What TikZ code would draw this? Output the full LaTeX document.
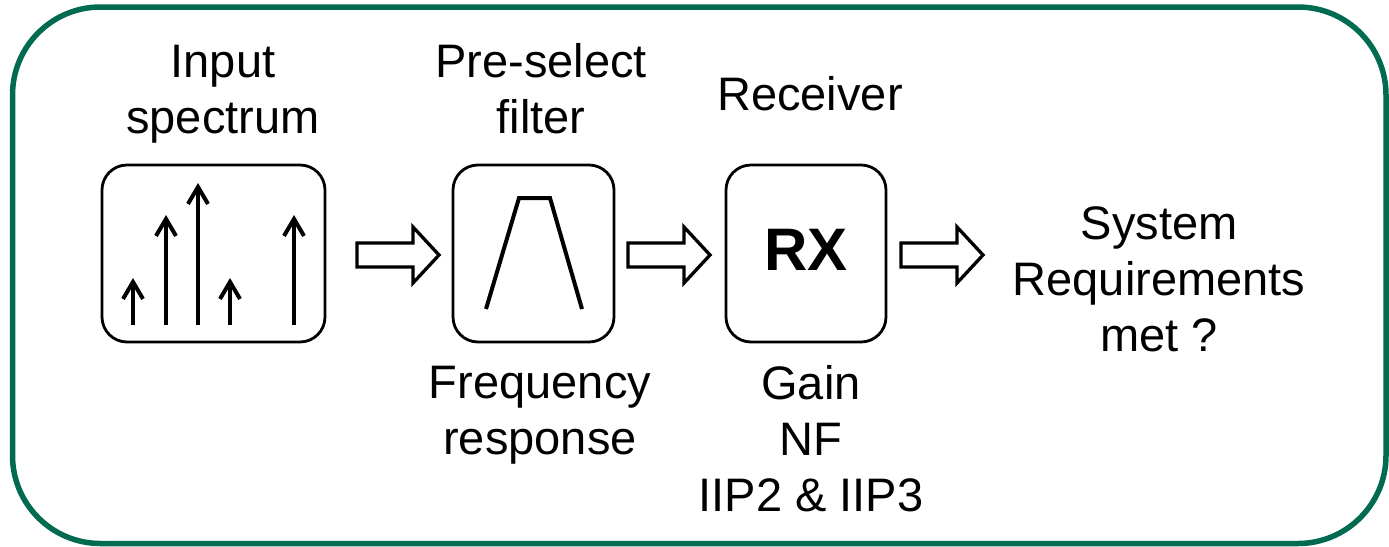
\documentclass[tikz,border=0pt]{standalone}
\usepackage{fontspec}
\setmainfont{Liberation Sans}
\usetikzlibrary{arrows.meta}
\definecolor{framegreen}{RGB}{0,107,80}

\begin{document}
\begin{tikzpicture}[x=1pt, y=-1pt,
    panel/.style={draw, line width=2.8, rounded corners=25, minimum height=177, inner sep=0},
    txt/.style={align=center, inner sep=0, font=\fontsize{47}{56}\selectfont},
    spike/.style={line width=4, -{Straight Barb[length=17pt,width=20pt]}},
    fatarrow/.style={line width=3.3, line join=miter}]
    \useasboundingbox (0,0) rectangle (1389,546);
    \draw [color=framegreen, line width=5.5, rounded corners=88] (12.5,7) rectangle (1386,543.5);
    % the three blocks
    \node [panel, minimum width=223] (spectrum) at (213.5,253.5) {};
    \node [panel, minimum width=161] (filter) at (533.5,253.5) {};
    \node [panel, minimum width=160] (rx) at (806,253.5) {};
    \node (rxname) at (806,270) [anchor=base, inner sep=0, font=\fontsize{60}{60}\selectfont\bfseries] {RX};
    % spectral lines
    \foreach \x/\top in {133/278, 166/215, 198/183, 230/278, 294/215}
        \draw [spike] (\x,325) -- (\x,\top);
    % band-pass shape
    \draw [line width=4] (486,309) -- (519,198) -- (550,198) -- (582,309);
    % hollow arrows
    \foreach \x in {357, 628, 901}
        \draw [fatarrow] (\x,243) -- ++(56,0) -- ++(0,-16) -- ++(26,28) -- ++(-26,28) -- ++(0,-16) -- ++(-56,0) -- cycle;
    % texts (anchored at the baseline of the last line)
    \node (inlabel) at (223,133) [txt, anchor=base] {Input\\spectrum};
    \node (filterlabel) at (541,133) [txt, anchor=base] {Pre-select\\filter};
    \node (rxlabel) at (810,110) [txt, anchor=base] {Receiver};
    \node (freqlabel) at (540,454) [txt, anchor=base] {Frequency\\response};
    \node (rxspecs) at (811,511) [txt, anchor=base] {Gain\\NF\\IIP2 \& IIP3};
    \node (sysreq) at (1159,351) [txt, anchor=base] {System\\Requirements\\met ?};
\end{tikzpicture}
\end{document}
